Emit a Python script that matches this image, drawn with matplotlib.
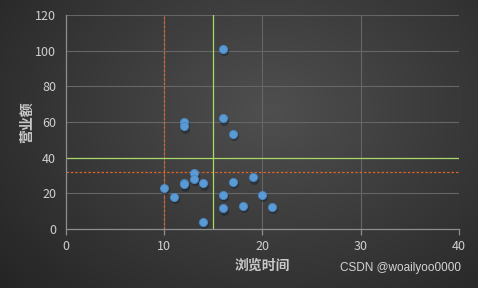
import numpy as np
import matplotlib.pyplot as plt

plt.rcParams['font.family'] = ['Noto Sans CJK SC', 'DejaVu Sans']

# 浏览时间 vs 营业额
browse_time = [16, 16, 17, 12, 12, 13, 13, 12, 12, 14, 10, 11, 14, 16, 16, 17, 18, 19, 20, 21]
revenue = [101, 62, 53.5, 60, 57.5, 31.5, 28, 26, 25, 25.5, 23, 18, 4, 19, 11.5, 26.5, 13, 29, 19, 12.5]

# reference lines
orange_x = 10
green_x = 15
green_y = 40
orange_y = 32

xticks = [0, 10, 20, 30, 40]
yticks = [0, 20, 40, 60, 80, 100, 120]

fig = plt.figure(figsize=(4.78, 2.88), dpi=100)

# dark radial gradient background
bg = fig.add_axes([0, 0, 1, 1], zorder=0)
yy, xx = np.mgrid[0:288, 0:478]
d = np.sqrt(((xx - 270) / 320.0) ** 2 + ((yy - 110) / 240.0) ** 2)
shade = np.clip(0.31 - 0.15 * d, 0.13, 0.31)
bg.imshow(np.dstack([shade] * 3), aspect='auto', extent=[0, 1, 0, 1])
bg.axis('off')

ax = fig.add_axes([0.138, 0.205, 0.822, 0.743], zorder=1)
ax.set_facecolor('none')

grid_col = '#666666'
for v in xticks[1:]:
    ax.axvline(v, color=grid_col, lw=0.8, zorder=1)
for v in yticks[1:]:
    ax.axhline(v, color=grid_col, lw=0.8, zorder=1)

ax.axvline(orange_x, color='#d8652c', lw=0.9, ls=(0, (2, 1.5)), zorder=2)
ax.axhline(orange_y, color='#d8652c', lw=0.9, ls=(0, (2, 1.5)), zorder=2)
ax.axvline(green_x, color='#a8d86a', lw=0.9, zorder=2)
ax.axhline(green_y, color='#a8d86a', lw=0.9, zorder=2)

# shadow then points
ax.scatter(np.array(browse_time) + 0.1, np.array(revenue) - 1.3, s=42,
           color='#1c2633', alpha=0.55, lw=0, zorder=3)
ax.scatter(browse_time, revenue, s=34, color='#5b9bd5', edgecolor='#4a87c0',
           lw=0.6, zorder=4)

ax.set_xlim(0, 40)
ax.set_ylim(0, 120)
ax.set_xticks(xticks)
ax.set_yticks(yticks)
for s in ['top', 'right']:
    ax.spines[s].set_visible(False)
for s in ['left', 'bottom']:
    ax.spines[s].set_color('#8e8e8e')
    ax.spines[s].set_linewidth(0.9)
ax.tick_params(colors='#cfcfcf', labelsize=9, length=4, width=0.9)
ax.tick_params(axis='y', length=0, pad=7)
ax.tick_params(axis='x', color='#8e8e8e', pad=4)

ax.set_xlabel('浏览时间', color='#c8c8c8', fontsize=10, fontweight='bold', labelpad=4)
ax.set_ylabel('营业额', color='#c8c8c8', fontsize=10, fontweight='bold', labelpad=1)

fig.text(0.965, 0.048, 'CSDN @woailyoo0000', color='#d4d4d4', fontsize=8.5,
         ha='right', va='bottom', family=['Liberation Sans'])

fig.savefig('out.png', dpi=100)
